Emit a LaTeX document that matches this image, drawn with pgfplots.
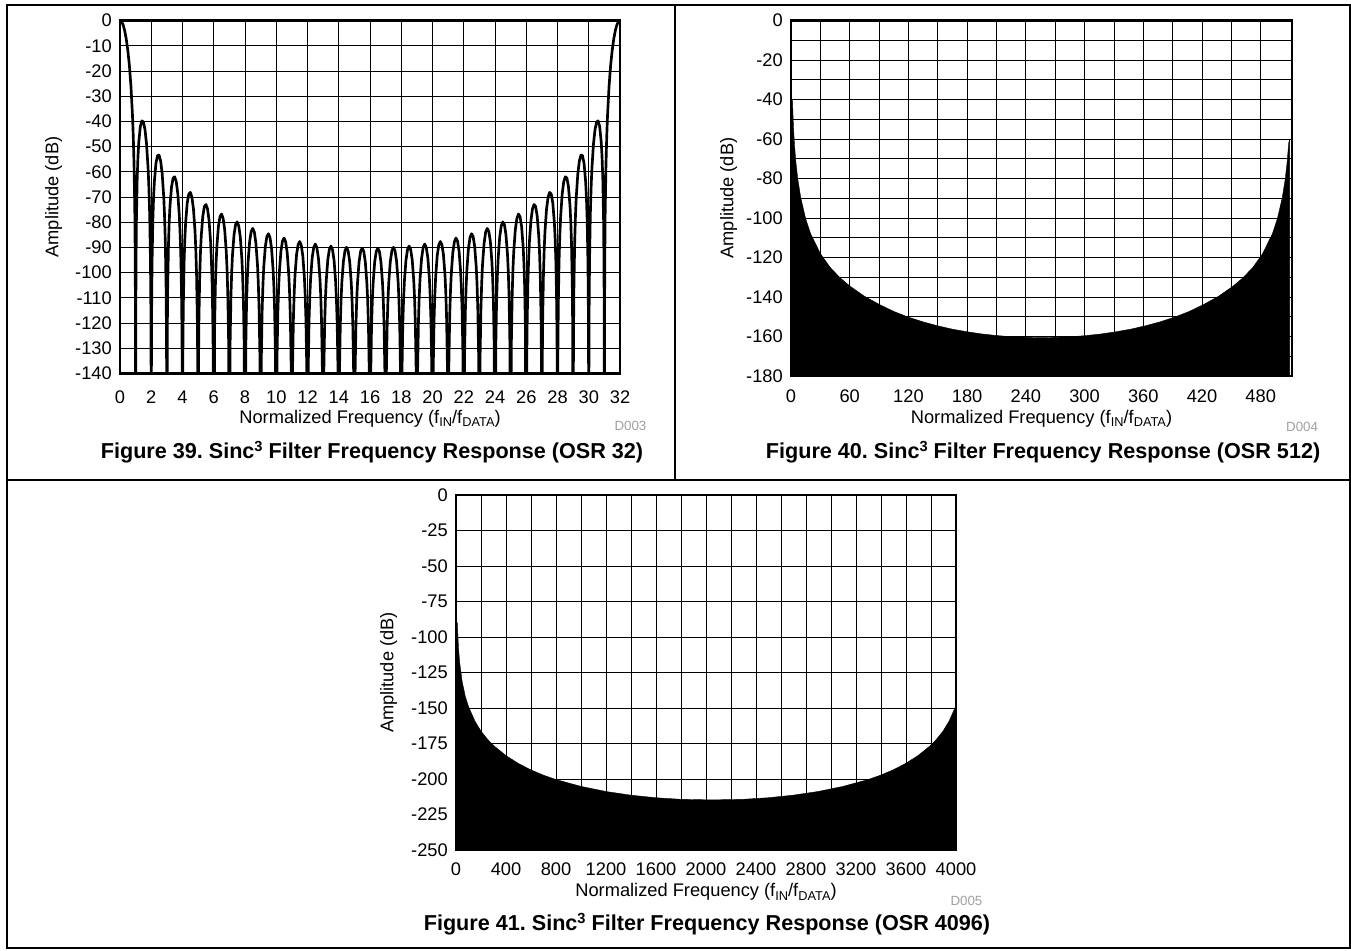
\documentclass[border=0pt]{standalone}
\usepackage{pgfplots}
\pgfplotsset{compat=1.18}
\usepackage{fontspec}
\setmainfont{Liberation Sans}
\frenchspacing
\newcommand{\lblfont}{\fontsize{13.7}{16}\selectfont}
\newcommand{\capfont}{\fontsize{16.2}{19}\selectfont\bfseries}
\newcommand{\subx}[1]{\raisebox{-2.6pt}{\fontsize{9.6}{10}\selectfont #1}}
\newcommand{\flabel}{Normalized Frequency (f\subx{IN}/f\subx{DATA})}
\newcommand{\supthree}{\raisebox{5pt}{\fontsize{11}{12}\selectfont\bfseries 3}}
\definecolor{dgray}{RGB}{160,160,160}

\begin{document}
\begin{tikzpicture}
\pgfplotsset{
  sinc/.style={
    scale only axis, axis on top,
    anchor=south west,
    axis line style={line width=2.2pt},
    grid=both,
    major grid style={line width=0.6pt, draw=black},
    minor grid style={line width=0.6pt, draw=black},
    major tick length=0pt, minor tick length=0pt,
    tick label style={font=\lblfont},
    /pgf/number format/assume math mode=true,
    /pgf/number format/1000 sep={},
    scaled ticks=false,
    yticklabel style={anchor=east, inner sep=0pt, xshift=-6pt},
  }
}
% frame
\draw[line width=1.1pt] (5.25pt,-3.75pt) rectangle (1012.5pt,-711pt);
\draw[line width=1.1pt] (506.25pt,-3.75pt) -- (506.25pt,-360pt);
\draw[line width=1.1pt] (5.25pt,-360pt) -- (1012.5pt,-360pt);

% ---------------- Figure 39 ----------------
\begin{axis}[sinc, at={(90pt,-280pt)}, width=375pt, height=264.6pt,
  xmin=0, xmax=32, ymin=-140, ymax=0,
  xtick={0,2,...,32}, ytick={0,-10,...,-140},
  xticklabel style={anchor=center, inner sep=0pt, yshift=-18pt}]
\addplot[black, line width=2pt, line join=round] coordinates {
(0,0) (0.1,-0.4) (0.2,-1.7) (0.3,-4.0) (0.4,-7.3) (0.5,-11.8) (0.6,-17.8) (0.7,-26.0) (0.8,-37.8) (0.85,-46.1) (0.9,-57.6) (0.95,-76.8) (0.975,-95.5) (0.99,-119.7) (1,-250)
(1.01,-120.2) (1.025,-96.8) (1.05,-79.4) (1.1,-62.9) (1.15,-54.0) (1.2,-48.4) (1.3,-42.1) (1.4,-39.8) (1.5,-40.3) (1.6,-43.3) (1.7,-49.1) (1.8,-58.9) (1.85,-66.3) (1.9,-77.0) (1.95,-95.4) (1.975,-113.7) (1.99,-137.8) (2,-250)
(2.01,-138.0) (2.025,-114.3) (2.05,-96.6) (2.1,-79.5) (2.15,-70.0) (2.2,-63.9) (2.3,-56.7) (2.4,-53.6) (2.5,-53.4) (2.6,-55.7) (2.7,-60.8) (2.8,-70.1) (2.85,-77.3) (2.9,-87.8) (2.95,-106.0) (2.975,-124.2) (2.99,-148.2) (3,-250)
(3.025,-124.6) (3.05,-106.8) (3.1,-89.5) (3.15,-79.8) (3.2,-73.5) (3.3,-65.9) (3.4,-62.5) (3.5,-62.0) (3.6,-63.9) (3.7,-68.8) (3.8,-77.8) (3.85,-84.9) (3.9,-95.2) (3.95,-113.3) (3.975,-131.4) (4,-250)
(4.025,-131.7) (4.05,-113.9) (4.1,-96.5) (4.15,-86.7) (4.2,-80.3) (4.3,-72.5) (4.4,-68.9) (4.5,-68.2) (4.6,-70.0) (4.7,-74.7) (4.8,-83.5) (4.85,-90.5) (4.9,-100.8) (4.95,-118.8) (4.975,-136.9) (5,-250)
(5.025,-137.1) (5.05,-119.3) (5.1,-101.8) (5.15,-92.0) (5.2,-85.5) (5.3,-77.6) (5.4,-73.8) (5.5,-73.0) (5.6,-74.7) (5.7,-79.3) (5.8,-88.0) (5.85,-95.0) (5.9,-105.2) (5.95,-123.1) (5.975,-141.2) (6,-250)
(6.05,-123.5) (6.1,-106.0) (6.15,-96.1) (6.2,-89.6) (6.3,-81.6) (6.4,-77.8) (6.5,-76.8) (6.6,-78.5) (6.7,-83.0) (6.8,-91.6) (6.85,-98.5) (6.9,-108.7) (6.95,-126.6) (7,-250)
(7.05,-126.9) (7.1,-109.3) (7.15,-99.5) (7.2,-92.9) (7.3,-84.9) (7.4,-80.9) (7.5,-79.9) (7.6,-81.5) (7.7,-86.0) (7.8,-94.6) (7.85,-101.5) (7.9,-111.6) (7.95,-129.5) (8,-250)
(8.05,-129.7) (8.1,-112.1) (8.15,-102.2) (8.2,-95.6) (8.3,-87.5) (8.4,-83.6) (8.5,-82.5) (8.6,-84.0) (8.7,-88.5) (8.8,-97.0) (8.85,-103.9) (8.9,-114.0) (8.95,-131.8) (9,-250)
(9.05,-132.0) (9.1,-114.4) (9.15,-104.5) (9.2,-97.9) (9.3,-89.7) (9.4,-85.7) (9.5,-84.6) (9.6,-86.1) (9.7,-90.5) (9.8,-99.0) (9.85,-105.8) (9.9,-115.9) (9.95,-133.8) (10,-250)
(10.05,-133.9) (10.1,-116.3) (10.15,-106.3) (10.2,-99.7) (10.3,-91.5) (10.4,-87.5) (10.5,-86.3) (10.6,-87.8) (10.7,-92.1) (10.8,-100.6) (10.85,-107.4) (10.9,-117.5) (10.95,-135.3) (11,-250)
(11.05,-135.4) (11.1,-117.8) (11.15,-107.8) (11.2,-101.1) (11.3,-92.9) (11.4,-88.9) (11.5,-87.7) (11.6,-89.1) (11.7,-93.4) (11.8,-101.9) (11.85,-108.7) (11.9,-118.7) (11.95,-136.5) (12,-250)
(12.05,-136.6) (12.1,-119.0) (12.15,-109.0) (12.2,-102.3) (12.3,-94.1) (12.4,-90.0) (12.5,-88.7) (12.6,-90.1) (12.7,-94.4) (12.8,-102.8) (12.85,-109.6) (12.9,-119.7) (12.95,-137.5) (13,-250)
(13.05,-137.5) (13.1,-119.8) (13.15,-109.9) (13.2,-103.2) (13.3,-94.9) (13.4,-90.8) (13.5,-89.5) (13.6,-90.9) (13.7,-95.2) (13.8,-103.5) (13.85,-110.3) (13.9,-120.3) (13.95,-138.1) (14,-250)
(14.05,-138.2) (14.1,-120.5) (14.15,-110.5) (14.2,-103.7) (14.3,-95.5) (14.4,-91.3) (14.5,-90.0) (14.6,-91.4) (14.7,-95.6) (14.8,-104.0) (14.85,-110.7) (14.9,-120.8) (14.95,-138.5) (15,-250)
(15.05,-138.5) (15.1,-120.8) (15.15,-110.8) (15.2,-104.1) (15.3,-95.8) (15.4,-91.6) (15.5,-90.3) (15.6,-91.6) (15.7,-95.8) (15.8,-104.2) (15.85,-110.9) (15.9,-120.9) (15.95,-138.7) (16,-250)
(16.05,-138.7) (16.1,-120.9) (16.15,-110.9) (16.2,-104.2) (16.3,-95.8) (16.4,-91.6) (16.5,-90.3) (16.6,-91.6) (16.7,-95.8) (16.8,-104.1) (16.85,-110.8) (16.9,-120.8) (16.95,-138.5) (17,-250)
(17.05,-138.5) (17.1,-120.8) (17.15,-110.7) (17.2,-104.0) (17.3,-95.6) (17.4,-91.4) (17.5,-90.0) (17.6,-91.3) (17.7,-95.5) (17.8,-103.7) (17.85,-110.5) (17.9,-120.5) (17.95,-138.2) (18,-250)
(18.05,-138.1) (18.1,-120.3) (18.15,-110.3) (18.2,-103.5) (18.3,-95.2) (18.4,-90.9) (18.5,-89.5) (18.6,-90.8) (18.7,-94.9) (18.8,-103.2) (18.85,-109.9) (18.9,-119.8) (18.95,-137.5) (19,-250)
(19.05,-137.5) (19.1,-119.7) (19.15,-109.6) (19.2,-102.8) (19.3,-94.4) (19.4,-90.1) (19.5,-88.7) (19.6,-90.0) (19.7,-94.1) (19.8,-102.3) (19.85,-109.0) (19.9,-119.0) (19.95,-136.6) (20,-250)
(20.05,-136.5) (20.1,-118.7) (20.15,-108.7) (20.2,-101.9) (20.3,-93.4) (20.4,-89.1) (20.5,-87.7) (20.6,-88.9) (20.7,-92.9) (20.8,-101.1) (20.85,-107.8) (20.9,-117.8) (20.95,-135.4) (21,-250)
(21.05,-135.3) (21.1,-117.5) (21.15,-107.4) (21.2,-100.6) (21.3,-92.1) (21.4,-87.8) (21.5,-86.3) (21.6,-87.5) (21.7,-91.5) (21.8,-99.7) (21.85,-106.3) (21.9,-116.3) (21.95,-133.9) (22,-250)
(22.05,-133.8) (22.1,-115.9) (22.15,-105.8) (22.2,-99.0) (22.3,-90.5) (22.4,-86.1) (22.5,-84.6) (22.6,-85.7) (22.7,-89.7) (22.8,-97.9) (22.85,-104.5) (22.9,-114.4) (22.95,-132.0) (23,-250)
(23.05,-131.8) (23.1,-114.0) (23.15,-103.9) (23.2,-97.0) (23.3,-88.5) (23.4,-84.0) (23.5,-82.5) (23.6,-83.6) (23.7,-87.5) (23.8,-95.6) (23.85,-102.2) (23.9,-112.1) (23.95,-129.7) (24,-250)
(24.05,-129.5) (24.1,-111.6) (24.15,-101.5) (24.2,-94.6) (24.3,-86.0) (24.4,-81.5) (24.5,-79.9) (24.6,-80.9) (24.7,-84.9) (24.8,-92.9) (24.85,-99.5) (24.9,-109.3) (24.95,-126.9) (25,-250)
(25.05,-126.6) (25.1,-108.7) (25.15,-98.5) (25.2,-91.6) (25.3,-83.0) (25.4,-78.5) (25.5,-76.8) (25.6,-77.8) (25.7,-81.6) (25.8,-89.6) (25.85,-96.1) (25.9,-106.0) (25.95,-123.5) (26,-250)
(26.025,-141.2) (26.05,-123.1) (26.1,-105.2) (26.15,-95.0) (26.2,-88.0) (26.3,-79.3) (26.4,-74.7) (26.5,-73.0) (26.6,-73.8) (26.7,-77.6) (26.8,-85.5) (26.85,-92.0) (26.9,-101.8) (26.95,-119.3) (26.975,-137.1) (27,-250)
(27.025,-136.9) (27.05,-118.8) (27.1,-100.8) (27.15,-90.5) (27.2,-83.5) (27.3,-74.7) (27.4,-70.0) (27.5,-68.2) (27.6,-68.9) (27.7,-72.5) (27.8,-80.3) (27.85,-86.7) (27.9,-96.5) (27.95,-113.9) (27.975,-131.7) (28,-250)
(28.025,-131.4) (28.05,-113.3) (28.1,-95.2) (28.15,-84.9) (28.2,-77.8) (28.3,-68.8) (28.4,-63.9) (28.5,-62.0) (28.6,-62.5) (28.7,-65.9) (28.8,-73.5) (28.85,-79.8) (28.9,-89.5) (28.95,-106.8) (28.975,-124.6) (29,-250)
(29.01,-148.2) (29.025,-124.2) (29.05,-106.0) (29.1,-87.8) (29.15,-77.3) (29.2,-70.1) (29.3,-60.8) (29.4,-55.7) (29.5,-53.4) (29.6,-53.6) (29.7,-56.7) (29.8,-63.9) (29.85,-70.0) (29.9,-79.5) (29.95,-96.6) (29.975,-114.3) (29.99,-138.0) (30,-250)
(30.01,-137.8) (30.025,-113.7) (30.05,-95.4) (30.1,-77.0) (30.15,-66.3) (30.2,-58.9) (30.3,-49.1) (30.4,-43.3) (30.5,-40.3) (30.6,-39.8) (30.7,-42.1) (30.8,-48.4) (30.85,-54.0) (30.9,-62.9) (30.95,-79.4) (30.975,-96.8) (30.99,-120.2) (31,-250)
(31.01,-119.7) (31.025,-95.5) (31.05,-76.8) (31.1,-57.6) (31.15,-46.1) (31.2,-37.8) (31.3,-26.0) (31.4,-17.8) (31.5,-11.8) (31.6,-7.3) (31.7,-4.0) (31.8,-1.7) (31.9,-0.4) (32,0)
};
\end{axis}

% ---------------- Figure 40 ----------------
\begin{axis}[sinc, at={(593.25pt,-282pt)}, width=375.75pt, height=266.6pt,
  xmin=0, xmax=512, ymin=-180, ymax=0,
  xtick={0,60,...,480}, minor xtick={30,90,...,450},
  ytick={0,-20,...,-180}, minor ytick={-10,-30,...,-170},
  xticklabel style={anchor=center, inner sep=0pt, yshift=-15.5pt}]
\addplot[fill=black, draw=black, line width=0.3pt] coordinates {
(0,-180) (0,-39) (1.5,-40.4) (2.5,-53.7) (3.5,-62.5) (5,-71.8) (7,-80.5) (10,-89.8) (15,-100.4) (20,-107.9) (30,-118.0) (40,-125.0) (50,-130.2) (60,-134.4) (75,-139.6) (90,-143.7) (105,-147.3) (120,-150.2) (135,-152.6) (150,-154.6) (165,-156.3) (180,-157.6) (195,-158.7) (210,-159.5) (225,-160.1) (240,-160.4) (256,-160.6) (272,-160.4) (287,-160.1) (302,-159.5) (317,-158.7) (332,-157.6) (347,-156.3) (362,-154.6) (377,-152.6) (392,-150.2) (407,-147.3) (422,-143.7) (437,-139.6) (452,-134.4) (462,-130.2) (472,-125.0) (482,-118.0) (492,-107.9) (497,-100.4) (502,-89.8) (505,-80.5) (507,-71.8) (508.5,-62.5) (509.5,-60) (509.5,-180)
};
\end{axis}

% ---------------- Figure 41 ----------------
\begin{axis}[sinc, at={(342pt,-637.5pt)}, width=375pt, height=266.25pt,
  xmin=0, xmax=4000, ymin=-250, ymax=0,
  xtick={0,400,...,4000}, minor xtick={200,600,...,3800},
  ytick={0,-25,...,-250},
  xticklabel style={anchor=center, inner sep=0pt, yshift=-14.5pt}]
\addplot[fill=black, draw=black, line width=0.3pt] coordinates {
(0,-250) (0,-90) (10,-89.8) (20,-107.9) (30,-118.5) (50,-131.8) (75,-142.0) (100,-149.0) (150,-159.0) (200,-166.3) (250,-171.8) (300,-176.4) (400,-183.5) (500,-189.1) (600,-193.6) (700,-197.3) (800,-200.4) (1000,-205.2) (1200,-208.8) (1400,-211.4) (1600,-213.2) (1800,-214.3) (2048,-214.7) (2296,-214.3) (2496,-213.2) (2696,-211.4) (2896,-208.8) (3096,-205.2) (3296,-200.4) (3396,-197.3) (3496,-193.6) (3596,-189.1) (3696,-183.5) (3796,-176.4) (3846,-171.8) (3896,-166.3) (3946,-159.0) (3996,-149.0) (4000,-148.0) (4000,-250)
};
\end{axis}

% labels
\node[font=\lblfont, anchor=base] at (277.5pt,-317.5pt) {\flabel};
\node[font=\lblfont, anchor=base] at (781.1pt,-317.5pt) {\flabel};
\node[font=\lblfont, anchor=base] at (529.5pt,-672.5pt) {\flabel};
\node[font=\lblfont, anchor=base, rotate=90] at (43.7pt,-147.75pt) {Amplitude (dB)};
\node[font=\lblfont, anchor=base, rotate=90] at (550pt,-148.5pt) {Amplitude (dB)};
\node[font=\lblfont, anchor=base, rotate=90] at (295pt,-504.4pt) {Amplitude (dB)};
\node[font=\fontsize{10}{12}\selectfont, text=dgray, anchor=base east, inner sep=0pt] at (485pt,-323pt) {D003};
\node[font=\fontsize{10}{12}\selectfont, text=dgray, anchor=base east, inner sep=0pt] at (988.7pt,-323.25pt) {D004};
\node[font=\fontsize{10}{12}\selectfont, text=dgray, anchor=base east, inner sep=0pt] at (737pt,-678.75pt) {D005};
\node[font=\capfont, anchor=base] at (279pt,-343.7pt) {Figure 39. Sinc\supthree{} Filter Frequency Response (OSR 32)};
\node[font=\capfont, anchor=base] at (782.3pt,-343.7pt) {Figure 40. Sinc\supthree{} Filter Frequency Response (OSR 512)};
\node[font=\capfont, anchor=base] at (530.25pt,-697.5pt) {Figure 41. Sinc\supthree{} Filter Frequency Response (OSR 4096)};

\pgfresetboundingbox
\path[use as bounding box] (0pt,0pt) rectangle (1013.25pt,-712.5pt);
\end{tikzpicture}
\end{document}
